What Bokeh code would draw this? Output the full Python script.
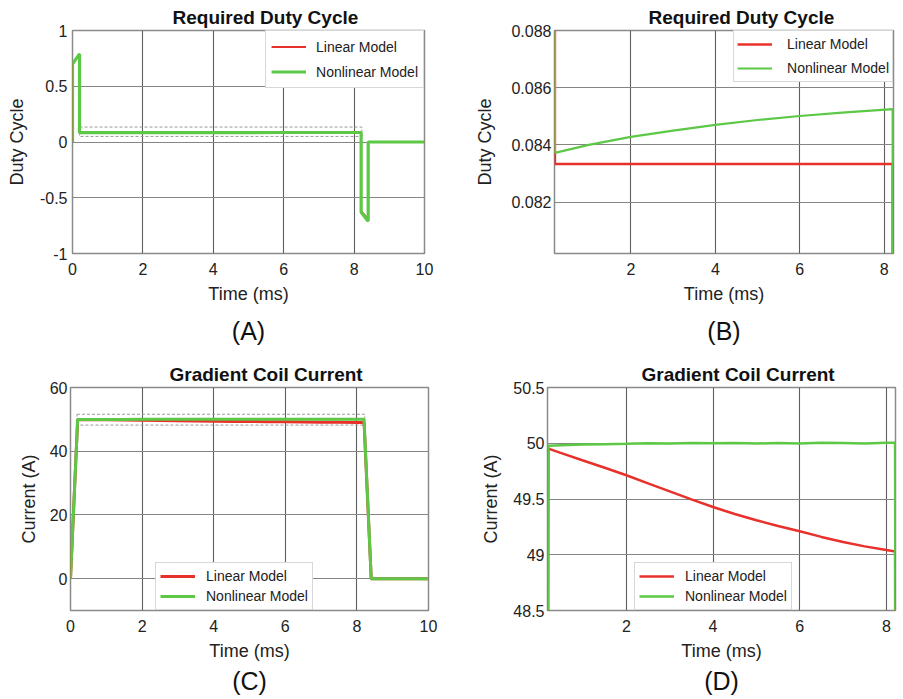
from bokeh.plotting import figure
from bokeh.layouts import column, row
from bokeh.models import (Range1d, FixedTicker, CustomJSTickFormatter, Legend,
                          LegendItem, Title)
from bokeh.embed import file_html
from bokeh.resources import INLINE

# ---------------- data ----------------
t_duty = [0, 0, 0.2, 0.2, 1, 2, 3, 4, 5, 6, 7, 8.2, 8.2, 8.4, 8.4, 10]
duty_linear = [0, 0.70, 0.79, 0.08333, 0.08333, 0.08333, 0.08333, 0.08333,
               0.08333, 0.08333, 0.08333, 0.08333, -0.62, -0.69, 0, 0]
duty_nonlinear = [0, 0.70, 0.79, 0.08372, 0.08400, 0.08428, 0.08450, 0.08470,
                  0.08487, 0.08501, 0.08513, 0.08525, -0.63, -0.71, 0, 0]

t_current = [0, 0.2, 0.5, 1, 1.5, 2, 2.5, 3, 3.5, 4, 4.5, 5, 5.5, 6, 6.5, 7,
             7.5, 8, 8.2, 8.4, 10]
current_linear = [0, 49.952, 49.912, 49.845, 49.78, 49.713, 49.64, 49.568,
                  49.497, 49.428, 49.366, 49.31, 49.258, 49.21, 49.16, 49.115,
                  49.075, 49.042, 49.03, 0, 0]
current_nonlinear = [0, 49.978, 49.982, 49.988, 49.992, 49.995, 49.999, 49.997,
                     50.002, 49.999, 50.003, 49.997, 50.003, 49.998, 50.004,
                     50.002, 49.998, 50.005, 50.005, 0, 0]

# zoom-window boxes (dashed)
boxA_x = [0.2, 8.22]
boxA_y = [0.05, 0.134]
boxC_x = [0.18, 8.22]
boxC_y = [48.2, 51.6]

ticksA_x = [0, 2, 4, 6, 8, 10]
ticksA_y = [-1, -0.5, 0, 0.5, 1]
ticksB_x = [2, 4, 6, 8]
ticksB_y = [0.082, 0.084, 0.086, 0.088]
ticksC_x = [0, 2, 4, 6, 8, 10]
ticksC_y = [0, 20, 40, 60]
ticksD_x = [2, 4, 6, 8]
ticksD_y = [48.5, 49, 49.5, 50, 50.5]

labels = ["Linear Model", "Nonlinear Model"]

RED = "#e8312b"
GREEN = "#5cc846"
FONT = "Liberation Sans"


def make_fig(w, h, xr, yr, xt, yt, borders, title, ylabel, ylab_standoff,
             ytick_standoff, title_offset):
    bl, br, bt, bb = borders
    p = figure(width=w, height=h, x_range=Range1d(*xr), y_range=Range1d(*yr),
               output_backend="svg", toolbar_location=None,
               min_border_left=bl, min_border_right=br,
               min_border_top=bt, min_border_bottom=bb)
    p.title.text = title
    p.title.text_font = FONT
    p.title.text_font_size = "19px"
    p.title.text_font_style = "bold"
    p.title.text_color = "#111111"
    p.title.align = "left"
    p.title.offset = title_offset
    p.title.standoff = 5
    fmt = CustomJSTickFormatter(code="return tick.toString();")
    for ax, ticks in ((p.xaxis[0], xt), (p.yaxis[0], yt)):
        ax.ticker = FixedTicker(ticks=ticks)
        ax.formatter = fmt
        ax.major_tick_line_color = None
        ax.minor_tick_line_color = None
        ax.major_tick_out = 0
        ax.major_tick_in = 0
        ax.axis_line_color = None
        ax.major_label_text_font = FONT
        ax.major_label_text_font_size = "16px"
        ax.major_label_text_color = "#222222"
        ax.axis_label_text_font = FONT
        ax.axis_label_text_font_size = "18px"
        ax.axis_label_text_font_style = "normal"
        ax.axis_label_text_color = "#222222"
    p.xaxis.axis_label = "Time (ms)"
    p.xaxis.major_label_standoff = 9
    p.xaxis.axis_label_standoff = 6
    p.yaxis.axis_label = ylabel
    p.yaxis.major_label_standoff = ytick_standoff
    p.yaxis.axis_label_standoff = ylab_standoff
    p.xgrid.grid_line_color = "#5e5e5e"
    p.ygrid.grid_line_color = "#858585"
    p.xgrid.grid_line_width = 1.1
    p.ygrid.grid_line_width = 1
    p.outline_line_color = "#8a8a8a"
    p.outline_line_width = 1.5
    p.background_fill_color = "white"
    p.border_fill_color = "white"
    return p


def add_legend(p, rends, location, padding, height, spacing, standoff):
    items = [LegendItem(label=lab, renderers=[r]) for lab, r in zip(labels, rends)]
    lg = Legend(items=items, location=location, margin=0, padding=padding,
                spacing=spacing, label_height=height, glyph_height=height,
                glyph_width=35, label_standoff=standoff,
                label_text_font=FONT, label_text_font_size="14px",
                label_text_color="#222222",
                border_line_color="#b0b0b0", border_line_width=1,
                background_fill_color="white", background_fill_alpha=1)
    p.add_layout(lg)


def add_caption(p, text, offset, standoff):
    p.add_layout(Title(text=text, align="center", offset=offset,
                       standoff=standoff, text_font=FONT,
                       text_font_size="25px", text_font_style="normal",
                       text_color="#111111"), "below")


# ---------------- panel A ----------------
pA = make_fig(451, 354, (0, 10), (-1, 1), ticksA_x, ticksA_y,
              (72, 27, 30, 101), "Required Duty Cycle", "Duty Cycle", 10, 5, 100)
pA.quad(left=[boxA_x[0]], right=[boxA_x[1]], bottom=[boxA_y[0]], top=[boxA_y[1]],
        fill_alpha=0, line_color="#9a9a9a", line_dash="3 2", line_width=1)
rA1 = pA.line(t_duty, duty_linear, line_color=RED, line_width=1.8)
rA2 = pA.line(t_duty, duty_nonlinear, line_color=GREEN, line_width=3.2)
add_legend(pA, [rA1, rA2], "top_right", 5, 21, 4, 10)
add_caption(pA, "(A)", -1, 16)

# ---------------- panel B ----------------
pB = make_fig(452, 354, (0.19, 8.22), (0.0802, 0.088), ticksB_x, ticksB_y,
              (103, 10, 30, 101), "Required Duty Cycle", "Duty Cycle", 13, 3, 94)
rB1 = pB.line(t_duty, duty_linear, line_color=RED, line_width=2.5)
rB2 = pB.line(t_duty, duty_nonlinear, line_color=GREEN, line_width=2.2)
add_legend(pB, [rB1, rB2], "top_right", 3, 20, 4, 15)
add_caption(pB, "(B)", 1, 16)

# ---------------- panel C ----------------
pC = make_fig(451, 345, (0, 10), (-10, 60), ticksC_x, ticksC_y,
              (70, 23, 33, 89), "Gradient Coil Current", "Current (A)", 8, 3, 99)
pC.quad(left=[boxC_x[0]], right=[boxC_x[1]], bottom=[boxC_y[0]], top=[boxC_y[1]],
        fill_alpha=0, line_color="#9a9a9a", line_dash="3 2", line_width=1)
rC1 = pC.line(t_current, current_linear, line_color=RED, line_width=3)
rC2 = pC.line(t_current, current_nonlinear, line_color=GREEN, line_width=3)
add_legend(pC, [rC1, rC2], (85, 0), 4, 18, 2, 11)
add_caption(pC, "(C)", -1, 3)

# ---------------- panel D ----------------
pD = make_fig(452, 345, (0.18, 8.21), (48.5, 50.5), ticksD_x, ticksD_y,
              (96, 8, 33, 89), "Gradient Coil Current", "Current (A)", 9, 3, 94)
rD1 = pD.line(t_current, current_linear, line_color=RED, line_width=2.5)
rD2 = pD.line(t_current, current_nonlinear, line_color=GREEN, line_width=2.5)
add_legend(pD, [rD1, rD2], (87, 0), 4, 18, 2, 11)
add_caption(pD, "(D)", 0, 3)

layout = column(row(pA, pB), row(pC, pD))

open("out.html", "w").write(file_html(layout, INLINE))
